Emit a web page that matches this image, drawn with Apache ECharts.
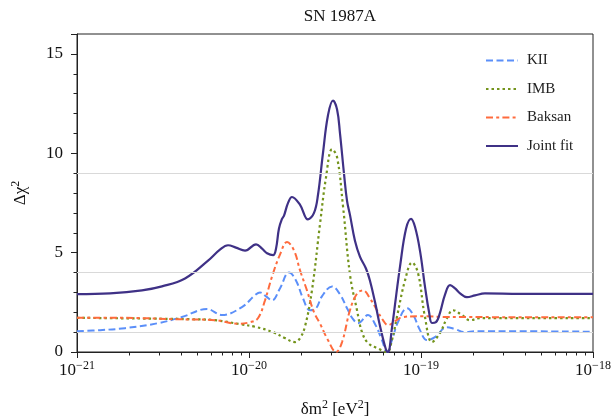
<!DOCTYPE html>
<html><head><meta charset="utf-8">
<script src="https://cdn.jsdelivr.net/npm/echarts@6/dist/echarts.min.js"></script>
<style>html,body{margin:0;padding:0;background:#fff}#c{width:615px;height:419px}</style>
</head><body><div id="c"></div>
<script>
// x values are log10(δm² / eV²), plotted on a linear axis of the exponent (log scale)
const seriesNames = ['KII', 'IMB', 'Baksan', 'Joint fit'];
const kiiData = [[-21.000,1.05],[-20.866,1.1],[-20.721,1.2],[-20.529,1.45],[-20.390,1.76],[-20.244,2.16],[-20.157,1.86],[-20.041,2.26],[-19.965,2.86],[-19.936,3.0],[-19.901,2.8],[-19.866,2.6],[-19.820,3.2],[-19.767,4.0],[-19.727,3.6],[-19.686,2.7],[-19.645,2.1],[-19.610,2.2],[-19.576,2.8],[-19.517,3.3],[-19.471,2.9],[-19.430,2.2],[-19.395,1.65],[-19.366,1.45],[-19.308,1.86],[-19.267,1.4],[-19.227,0.6],[-19.198,0],[-19.169,0.6],[-19.134,1.5],[-19.081,2.2],[-19.047,1.9],[-19.006,1.1],[-18.965,0.6],[-18.919,0.75],[-18.849,1.25],[-18.802,1.15],[-18.744,1.0],[-18.686,1.05],[-18.000,1.02]];
const imbData = [[-21.000,1.72],[-20.576,1.68],[-20.343,1.65],[-20.198,1.6],[-20.052,1.4],[-19.965,1.27],[-19.860,1.0],[-19.791,0.7],[-19.733,0.5],[-19.703,0.7],[-19.674,1.3],[-19.634,3.1],[-19.587,6.45],[-19.552,8.8],[-19.517,10.2],[-19.488,9.8],[-19.453,7.3],[-19.413,3.9],[-19.372,2.1],[-19.343,1.0],[-19.308,0.45],[-19.256,0.2],[-19.198,0],[-19.169,0.6],[-19.140,1.76],[-19.093,3.6],[-19.052,4.5],[-19.017,3.96],[-18.977,1.76],[-18.936,0.5],[-18.890,0.95],[-18.849,1.7],[-18.814,2.1],[-18.762,1.86],[-18.715,1.6],[-18.657,1.7],[-18.000,1.7]];
const baksanData = [[-21.000,1.72],[-20.750,1.72],[-20.430,1.65],[-20.198,1.6],[-20.064,1.42],[-19.994,1.5],[-19.948,1.7],[-19.907,2.6],[-19.866,3.8],[-19.820,4.9],[-19.779,5.53],[-19.738,5.1],[-19.703,4.1],[-19.663,3.1],[-19.622,2.0],[-19.587,1.43],[-19.541,0.6],[-19.494,0],[-19.459,0.5],[-19.413,2.1],[-19.372,2.94],[-19.337,3.1],[-19.297,2.7],[-19.256,2.1],[-19.221,1.6],[-19.192,1.35],[-19.151,1.55],[-19.105,1.76],[-19.006,1.8],[-18.831,1.76],[-18.000,1.75]];
const jointData = [[-21.000,2.91],[-20.808,2.95],[-20.622,3.1],[-20.506,3.3],[-20.372,3.7],[-20.238,4.6],[-20.169,5.15],[-20.122,5.37],[-20.076,5.25],[-20.023,5.1],[-19.959,5.42],[-19.924,5.2],[-19.895,4.97],[-19.860,4.87],[-19.843,5.2],[-19.826,6.2],[-19.808,6.7],[-19.797,6.85],[-19.773,7.5],[-19.750,7.8],[-19.703,7.4],[-19.657,6.67],[-19.622,7.0],[-19.599,7.9],[-19.570,10.0],[-19.541,11.9],[-19.512,12.65],[-19.488,12.2],[-19.471,11.0],[-19.448,9.0],[-19.430,7.6],[-19.413,6.9],[-19.384,5.6],[-19.355,4.8],[-19.320,4.2],[-19.297,3.6],[-19.267,2.5],[-19.238,1.3],[-19.203,0.1],[-19.192,0],[-19.169,1.2],[-19.145,2.8],[-19.122,4.3],[-19.087,6.2],[-19.058,6.7],[-19.035,6.3],[-19.006,5.1],[-18.977,3.3],[-18.953,2.0],[-18.936,1.46],[-18.913,1.5],[-18.890,1.96],[-18.860,2.9],[-18.831,3.36],[-18.802,3.2],[-18.773,2.95],[-18.733,2.76],[-18.686,2.85],[-18.628,2.95],[-18.424,2.92],[-18.000,2.92]];
const refLevels = [1, 4, 9];
const yTicks = [0, 5, 10, 15];
const xDecades = [-21, -20, -19, -18];
const minorMultipliers = [2, 3, 4, 5, 6, 7, 8, 9];

const FONT = 'Liberation Serif';
const minorTickPos = [];
for (let i = 0; i < xDecades.length - 1; i++) {
  minorMultipliers.forEach(m => minorTickPos.push(xDecades[i] + Math.log10(m)));
}

const chart = echarts.init(document.getElementById('c'), null, {renderer: 'canvas'});
const supRich = {
  b: {fontFamily: FONT, fontSize: 17, color: '#111'},
  e: {fontFamily: FONT, fontSize: 12, color: '#111', padding: [0, 0, 10, 0]}
};
const lineCommon = {type: 'line', showSymbol: false, symbol: 'none', smooth: 0.4, z: 3};
chart.setOption({
  animation: false,
  backgroundColor: '#fff',
  title: {
    text: 'SN 1987A', left: 335, textAlign: 'center', top: 3,
    textStyle: {fontFamily: FONT, fontSize: 17, fontWeight: 'normal', color: '#111'}
  },
  grid: {left: 77, right: 22, top: 34, bottom: 67, show: true, borderColor: '#222', borderWidth: 1,
    containLabel: false, outerBoundsMode: 'none'},
  legend: {
    data: seriesNames, orient: 'vertical', left: 480, top: 48,
    itemWidth: 32, itemHeight: 14, itemGap: 13.5,
    itemStyle: {opacity: 0},
    textStyle: {fontFamily: FONT, fontSize: 15, color: '#222', padding: [0, 0, 0, 4]}
  },
  xAxis: {
    type: 'value',
    min: xDecades[0], max: xDecades[xDecades.length - 1], interval: 1,
    axisLine: {show: true, onZero: false, lineStyle: {color: '#222', width: 1}},
    axisTick: {show: true, length: 6, lineStyle: {color: '#222'}},
    splitLine: {show: false},
    axisLabel: {
      margin: 8,
      formatter: v => { const e = Math.round(v); return '{b|10}{e|' + (e < 0 ? '\u2212' : '') + Math.abs(e) + '}'; },
      rich: supRich
    },
    name: '{b|\u03b4m}{e|2}{b| [eV}{e|2}{b|]}',
    nameLocation: 'middle', nameGap: 47,
    nameTextStyle: {rich: supRich}
  },
  yAxis: {
    type: 'value', min: 0, max: 16, interval: 5,
    axisLine: {show: true, lineStyle: {color: '#222', width: 1}},
    axisTick: {show: true, length: 6, lineStyle: {color: '#222'}},
    minorTick: {show: true, splitNumber: 5, length: 3.5, lineStyle: {color: '#222'}},
    splitLine: {show: false},
    axisLabel: {margin: 14, fontFamily: FONT, fontSize: 17, color: '#111',
      formatter: v => yTicks.includes(v) ? String(v) : ''},
    name: '{b|\u0394\u03c7}{e|2}',
    nameLocation: 'middle', nameGap: 45, nameRotate: 90,
    nameTextStyle: {rich: supRich}
  },
  series: [
    {
      name: '_ref', type: 'line', data: [], z: 1, silent: true,
      markLine: {
        silent: true, symbol: 'none', label: {show: false},
        lineStyle: {color: '#d9d9d9', width: 1, type: 'solid'},
        data: refLevels.map(v => ({yAxis: v}))
      }
    },
    Object.assign({}, lineCommon, {name: 'KII', data: kiiData, color: '#5b8ff9',
      lineStyle: {width: 2, color: '#5b8ff9', type: [7, 3.5]}}),
    Object.assign({}, lineCommon, {name: 'IMB', data: imbData, color: '#74941c',
      lineStyle: {width: 2.2, color: '#74941c', type: [2.5, 3]}}),
    Object.assign({}, lineCommon, {name: 'Baksan', data: baksanData, color: '#ff6b3d',
      lineStyle: {width: 2, color: '#ff6b3d', type: [7, 3.2, 3, 3.2]}}),
    Object.assign({}, lineCommon, {name: 'Joint fit', data: jointData, color: '#3f3186',
      lineStyle: {width: 2.2, color: '#3f3186'}})
  ]
});

// minor (log) ticks on the x axis, positioned through the chart's own scale
const tickEls = minorTickPos.map(v => {
  const p = chart.convertToPixel({xAxisIndex: 0, yAxisIndex: 0}, [v, 0]);
  const x = Math.round(p[0]) + 0.5;
  return {type: 'line', silent: true, z: 100,
    shape: {x1: x, y1: p[1], x2: x, y2: p[1] + 3.5},
    style: {stroke: '#222', lineWidth: 1}};
});
chart.setOption({graphic: {elements: tickEls}});
</script>
</body></html>
